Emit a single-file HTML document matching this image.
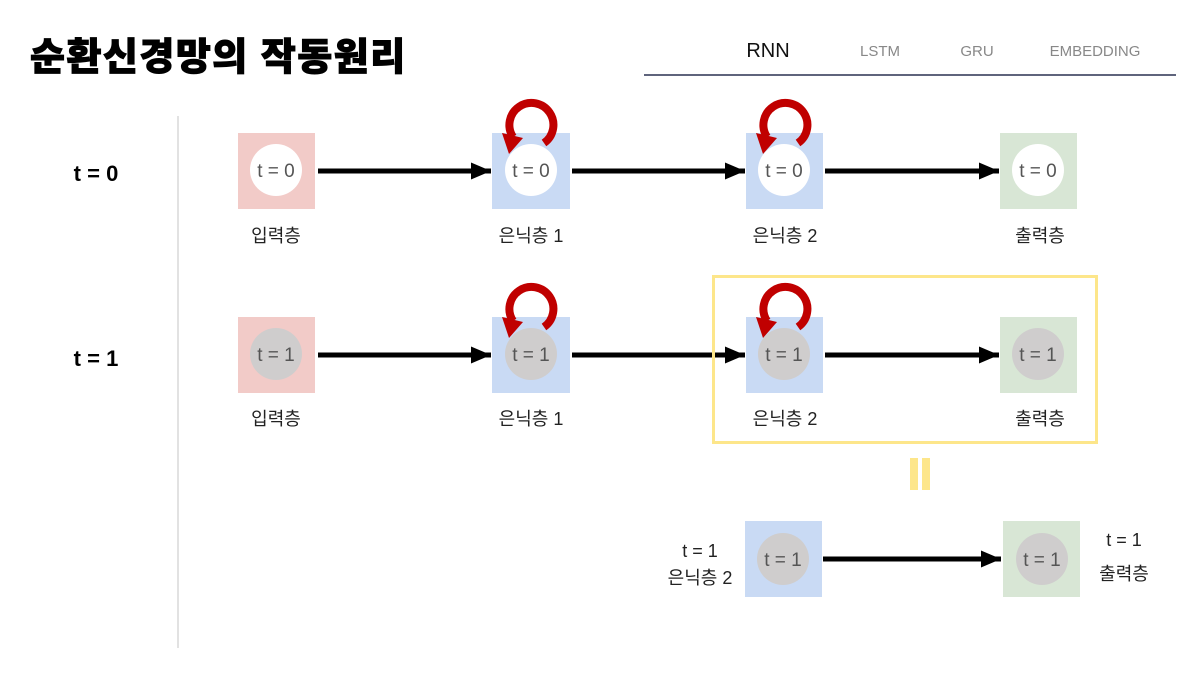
<!DOCTYPE html>
<html><head><meta charset="utf-8">
<style>
body{margin:0;width:1199px;height:675px;background:#fff;overflow:hidden}
svg{display:block}
.lbl{font-family:"Liberation Sans","Noto Sans CJK KR",sans-serif;font-size:18px;fill:#222;text-anchor:middle}
.nt{font-family:"Liberation Sans","Noto Sans CJK KR",sans-serif;font-size:19px;fill:#555;text-anchor:middle;font-weight:300}
</style></head><body>
<svg width="1199" height="675" viewBox="0 0 1199 675">
<defs>
<marker id="ah" markerWidth="4" markerHeight="3.4" refX="4" refY="1.7" orient="auto" markerUnits="strokeWidth">
<path d="M0,0 L4,1.7 L0,3.4 z" fill="#000"/></marker>
<g id="loop">
<path d="M13 18 A22 22 0 1 0 -18 12" fill="none" stroke="#c00000" stroke-width="8"/>
<polygon points="-29,8 -8,13 -22,29" fill="#c00000"/>
</g>
</defs>
<text x="30" y="70" font-family="'Liberation Sans','Noto Sans CJK KR',sans-serif" font-size="38" font-weight="900" letter-spacing="1.5" fill="#000" stroke="#000" stroke-width="1">순환신경망의 작동원리</text>
<g font-family="'Liberation Sans','Noto Sans CJK KR',sans-serif" text-anchor="middle">
<text x="768" y="57" font-size="20" fill="#111">RNN</text>
<text x="880" y="56" font-size="15" fill="#888">LSTM</text>
<text x="977" y="56" font-size="15" fill="#888">GRU</text>
<text x="1095" y="56" font-size="15" fill="#888">EMBEDDING</text>
</g>
<line x1="644" y1="75" x2="1176" y2="75" stroke="#2a3050" stroke-width="1.5"/>
<line x1="178" y1="116" x2="178" y2="648" stroke="#e2e2e2" stroke-width="2"/>
<g font-family="'Liberation Sans',sans-serif" font-weight="bold" font-size="22" text-anchor="middle" fill="#000">
<text x="96" y="181">t = 0</text>
<text x="96" y="366">t = 1</text>
</g>
<rect x="238" y="133" width="77" height="76" fill="#f2cbc8"/>
<rect x="492" y="133" width="78" height="76" fill="#c9daf4"/>
<rect x="746" y="133" width="77" height="76" fill="#c9daf4"/>
<rect x="1000" y="133" width="77" height="76" fill="#d8e6d5"/>
<g fill="#fff"><circle cx="276" cy="170" r="26"/><circle cx="531" cy="170" r="26"/><circle cx="784" cy="170" r="26"/><circle cx="1038" cy="170" r="26"/></g>
<text x="276" y="177" class="nt">t = 0</text><text x="531" y="177" class="nt">t = 0</text><text x="784" y="177" class="nt">t = 0</text><text x="1038" y="177" class="nt">t = 0</text>
<g stroke="#000" stroke-width="5">
<line x1="318" y1="171" x2="491" y2="171" marker-end="url(#ah)"/>
<line x1="572" y1="171" x2="745" y2="171" marker-end="url(#ah)"/>
<line x1="825" y1="171" x2="999" y2="171" marker-end="url(#ah)"/>
</g>
<use href="#loop" x="531" y="125"/>
<use href="#loop" x="785" y="125"/>
<text class="lbl" x="276" y="242">입력층</text>
<text class="lbl" x="531" y="242">은닉층 1</text>
<text class="lbl" x="785" y="242">은닉층 2</text>
<text class="lbl" x="1040" y="242">출력층</text>
<rect x="238" y="317" width="77" height="76" fill="#f2cbc8"/>
<rect x="492" y="317" width="78" height="76" fill="#c9daf4"/>
<rect x="746" y="317" width="77" height="76" fill="#c9daf4"/>
<rect x="1000" y="317" width="77" height="76" fill="#d8e6d5"/>
<g fill="#cfcdcd"><circle cx="276" cy="354" r="26"/><circle cx="531" cy="354" r="26"/><circle cx="784" cy="354" r="26"/><circle cx="1038" cy="354" r="26"/></g>
<text x="276" y="361" class="nt">t = 1</text><text x="531" y="361" class="nt">t = 1</text><text x="784" y="361" class="nt">t = 1</text><text x="1038" y="361" class="nt">t = 1</text>
<g stroke="#000" stroke-width="5">
<line x1="318" y1="355" x2="491" y2="355" marker-end="url(#ah)"/>
<line x1="572" y1="355" x2="745" y2="355" marker-end="url(#ah)"/>
<line x1="825" y1="355" x2="999" y2="355" marker-end="url(#ah)"/>
</g>
<use href="#loop" x="531" y="309"/>
<use href="#loop" x="785" y="309"/>
<text class="lbl" x="276" y="425">입력층</text>
<text class="lbl" x="531" y="425">은닉층 1</text>
<text class="lbl" x="785" y="425">은닉층 2</text>
<text class="lbl" x="1040" y="425">출력층</text>
<rect x="713.5" y="276.5" width="383" height="166" fill="none" stroke="#fde68a" stroke-width="3"/>
<rect x="910" y="458" width="8" height="32" fill="#fde68a"/>
<rect x="922" y="458" width="8" height="32" fill="#fde68a"/>
<rect x="745" y="521" width="77" height="76" fill="#c9daf4"/>
<rect x="1003" y="521" width="77" height="76" fill="#d8e6d5"/>
<circle cx="783" cy="559" r="26" fill="#cfcdcd"/><circle cx="1042" cy="559" r="26" fill="#cfcdcd"/>
<text x="783" y="566" class="nt">t = 1</text><text x="1042" y="566" class="nt">t = 1</text>
<line x1="823" y1="559" x2="1001" y2="559" stroke="#000" stroke-width="5" marker-end="url(#ah)"/>
<text class="lbl" x="700" y="557">t = 1</text>
<text class="lbl" x="700" y="584">은닉층 2</text>
<text class="lbl" x="1124" y="546">t = 1</text>
<text class="lbl" x="1124" y="580">출력층</text>
</svg>
</body></html>
